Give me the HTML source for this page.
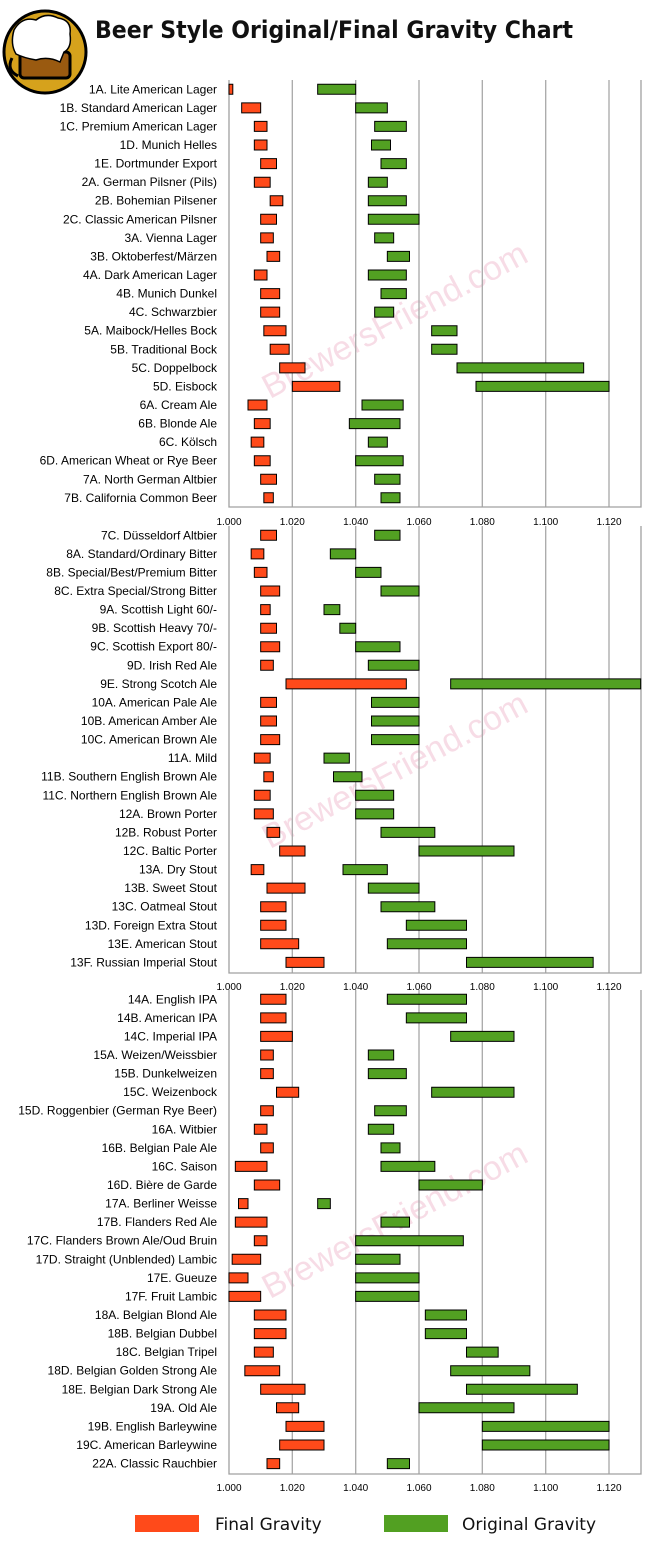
<!DOCTYPE html>
<html><head><meta charset="utf-8"><style>
html,body{margin:0;padding:0;background:#fff;}
svg{display:block;}
.lb{font-family:"Liberation Sans",sans-serif;font-size:12px;fill:#000;text-anchor:end;}
.ax{font-family:"Liberation Sans",sans-serif;font-size:10px;fill:#000;text-anchor:middle;}
.r{fill:#ff4a1a;stroke:#000;stroke-width:1;vector-effect:non-scaling-stroke;}
.g{fill:#52a022;stroke:#000;stroke-width:1;vector-effect:non-scaling-stroke;}
.gl{stroke:#a8a8a8;stroke-width:1.3;}
</style></head><body>
<svg width="654" height="1550" viewBox="0 0 654 1550" xmlns="http://www.w3.org/2000/svg">
<rect width="654" height="1550" fill="#fff"/>
<!-- mug icon -->
<circle cx="45" cy="52" r="41" fill="#d6a21c" stroke="#000" stroke-width="3"/>
<rect x="20" y="52" width="50" height="26" rx="4" fill="#9a5a10" stroke="#000" stroke-width="3"/>
<path d="M12 58 q-6 12 6 18" fill="none" stroke="#000" stroke-width="3"/>
<path d="M14 30 q8 -14 22 -10 q10 -8 22 -2 q14 2 12 16 q2 14 -6 18 l-4 10 q-12 -6 -24 -2 q-12 -2 -20 -6 q-6 -10 -2 -24z" fill="#fff" stroke="#000" stroke-width="1.5"/>
<text x="95" y="38" font-family="'DejaVu Sans','Liberation Sans',sans-serif" font-weight="bold" font-size="24" textLength="478" lengthAdjust="spacingAndGlyphs" fill="#111">Beer Style Original/Final Gravity Chart</text>
<!-- watermark -->
<text x="400" y="330" font-family="'Liberation Sans',sans-serif" font-size="34" fill="#f2c6d6" opacity="0.6" text-anchor="middle" transform="rotate(-28 400 330)">BrewersFriend.com</text>
<text x="400" y="780" font-family="'Liberation Sans',sans-serif" font-size="34" fill="#f2c6d6" opacity="0.6" text-anchor="middle" transform="rotate(-28 400 780)">BrewersFriend.com</text>
<text x="400" y="1230" font-family="'Liberation Sans',sans-serif" font-size="34" fill="#f2c6d6" opacity="0.6" text-anchor="middle" transform="rotate(-28 400 1230)">BrewersFriend.com</text>

<!-- PANEL 1 -->
<g>
<line class="gl" x1="292.3" y1="80" x2="292.3" y2="507"/><line class="gl" x1="355.7" y1="80" x2="355.7" y2="507"/><line class="gl" x1="419" y1="80" x2="419" y2="507"/><line class="gl" x1="482.3" y1="80" x2="482.3" y2="507"/><line class="gl" x1="545.7" y1="80" x2="545.7" y2="507"/><line class="gl" x1="609" y1="80" x2="609" y2="507"/>
<polyline points="229,80 229,507 641,507 641,80" fill="none" stroke="#a0a0a0" stroke-width="1.3"/>
<g class="ax"><text x="229" y="525">1.000</text><text x="292.3" y="525">1.020</text><text x="355.7" y="525">1.040</text><text x="419" y="525">1.060</text><text x="482.3" y="525">1.080</text><text x="545.7" y="525">1.100</text><text x="609" y="525">1.120</text></g>
<g transform="translate(0,80)" class="lb">
<text x="217" y="13.3">1A. Lite American Lager</text>
<text x="217" y="31.9">1B. Standard American Lager</text>
<text x="217" y="50.4">1C. Premium American Lager</text>
<text x="217" y="69">1D. Munich Helles</text>
<text x="217" y="87.6">1E. Dortmunder Export</text>
<text x="217" y="106.2">2A. German Pilsner (Pils)</text>
<text x="217" y="124.7">2B. Bohemian Pilsener</text>
<text x="217" y="143.3">2C. Classic American Pilsner</text>
<text x="217" y="161.9">3A. Vienna Lager</text>
<text x="217" y="180.4">3B. Oktoberfest/Märzen</text>
<text x="217" y="199">4A. Dark American Lager</text>
<text x="217" y="217.6">4B. Munich Dunkel</text>
<text x="217" y="236.1">4C. Schwarzbier</text>
<text x="217" y="254.7">5A. Maibock/Helles Bock</text>
<text x="217" y="273.3">5B. Traditional Bock</text>
<text x="217" y="291.9">5C. Doppelbock</text>
<text x="217" y="310.4">5D. Eisbock</text>
<text x="217" y="329">6A. Cream Ale</text>
<text x="217" y="347.6">6B. Blonde Ale</text>
<text x="217" y="366.1">6C. Kölsch</text>
<text x="217" y="384.7">6D. American Wheat or Rye Beer</text>
<text x="217" y="403.3">7A. North German Altbier</text>
<text x="217" y="421.8">7B. California Common Beer</text>
</g>
<g transform="translate(229,80) scale(3.1667,1)">
<rect class="r" x="0" y="4.3" width="1.2" height="10"/><rect class="g" x="28" y="4.3" width="12" height="10"/>
<rect class="r" x="4" y="22.9" width="6" height="10"/><rect class="g" x="40" y="22.9" width="10" height="10"/>
<rect class="r" x="8" y="41.4" width="4" height="10"/><rect class="g" x="46" y="41.4" width="10" height="10"/>
<rect class="r" x="8" y="60" width="4" height="10"/><rect class="g" x="45" y="60" width="6" height="10"/>
<rect class="r" x="10" y="78.6" width="5" height="10"/><rect class="g" x="48" y="78.6" width="8" height="10"/>
<rect class="r" x="8" y="97.2" width="5" height="10"/><rect class="g" x="44" y="97.2" width="6" height="10"/>
<rect class="r" x="13" y="115.7" width="4" height="10"/><rect class="g" x="44" y="115.7" width="12" height="10"/>
<rect class="r" x="10" y="134.3" width="5" height="10"/><rect class="g" x="44" y="134.3" width="16" height="10"/>
<rect class="r" x="10" y="152.9" width="4" height="10"/><rect class="g" x="46" y="152.9" width="6" height="10"/>
<rect class="r" x="12" y="171.4" width="4" height="10"/><rect class="g" x="50" y="171.4" width="7" height="10"/>
<rect class="r" x="8" y="190" width="4" height="10"/><rect class="g" x="44" y="190" width="12" height="10"/>
<rect class="r" x="10" y="208.6" width="6" height="10"/><rect class="g" x="48" y="208.6" width="8" height="10"/>
<rect class="r" x="10" y="227.1" width="6" height="10"/><rect class="g" x="46" y="227.1" width="6" height="10"/>
<rect class="r" x="11" y="245.7" width="7" height="10"/><rect class="g" x="64" y="245.7" width="8" height="10"/>
<rect class="r" x="13" y="264.3" width="6" height="10"/><rect class="g" x="64" y="264.3" width="8" height="10"/>
<rect class="r" x="16" y="282.9" width="8" height="10"/><rect class="g" x="72" y="282.9" width="40" height="10"/>
<rect class="r" x="20" y="301.4" width="15" height="10"/><rect class="g" x="78" y="301.4" width="42" height="10"/>
<rect class="r" x="6" y="320" width="6" height="10"/><rect class="g" x="42" y="320" width="13" height="10"/>
<rect class="r" x="8" y="338.6" width="5" height="10"/><rect class="g" x="38" y="338.6" width="16" height="10"/>
<rect class="r" x="7" y="357.1" width="4" height="10"/><rect class="g" x="44" y="357.1" width="6" height="10"/>
<rect class="r" x="8" y="375.7" width="5" height="10"/><rect class="g" x="40" y="375.7" width="15" height="10"/>
<rect class="r" x="10" y="394.3" width="5" height="10"/><rect class="g" x="46" y="394.3" width="8" height="10"/>
<rect class="r" x="11" y="412.8" width="3" height="10"/><rect class="g" x="48" y="412.8" width="6" height="10"/>
</g>
</g>

<!-- PANEL 2 -->
<g>
<line class="gl" x1="292.3" y1="526" x2="292.3" y2="973"/><line class="gl" x1="355.7" y1="526" x2="355.7" y2="973"/><line class="gl" x1="419" y1="526" x2="419" y2="973"/><line class="gl" x1="482.3" y1="526" x2="482.3" y2="973"/><line class="gl" x1="545.7" y1="526" x2="545.7" y2="973"/><line class="gl" x1="609" y1="526" x2="609" y2="973"/>
<polyline points="229,526 229,973 641,973 641,526" fill="none" stroke="#a0a0a0" stroke-width="1.3"/>
<g class="ax"><text x="229" y="990">1.000</text><text x="292.3" y="990">1.020</text><text x="355.7" y="990">1.040</text><text x="419" y="990">1.060</text><text x="482.3" y="990">1.080</text><text x="545.7" y="990">1.100</text><text x="609" y="990">1.120</text></g>
<g transform="translate(0,526)" class="lb">
<text x="217" y="13.3">7C. Düsseldorf Altbier</text>
<text x="217" y="31.9">8A. Standard/Ordinary Bitter</text>
<text x="217" y="50.4">8B. Special/Best/Premium Bitter</text>
<text x="217" y="69">8C. Extra Special/Strong Bitter</text>
<text x="217" y="87.6">9A. Scottish Light 60/-</text>
<text x="217" y="106.2">9B. Scottish Heavy 70/-</text>
<text x="217" y="124.7">9C. Scottish Export 80/-</text>
<text x="217" y="143.3">9D. Irish Red Ale</text>
<text x="217" y="161.9">9E. Strong Scotch Ale</text>
<text x="217" y="180.4">10A. American Pale Ale</text>
<text x="217" y="199">10B. American Amber Ale</text>
<text x="217" y="217.6">10C. American Brown Ale</text>
<text x="217" y="236.1">11A. Mild</text>
<text x="217" y="254.7">11B. Southern English Brown Ale</text>
<text x="217" y="273.3">11C. Northern English Brown Ale</text>
<text x="217" y="291.9">12A. Brown Porter</text>
<text x="217" y="310.4">12B. Robust Porter</text>
<text x="217" y="329">12C. Baltic Porter</text>
<text x="217" y="347.6">13A. Dry Stout</text>
<text x="217" y="366.1">13B. Sweet Stout</text>
<text x="217" y="384.7">13C. Oatmeal Stout</text>
<text x="217" y="403.3">13D. Foreign Extra Stout</text>
<text x="217" y="421.8">13E. American Stout</text>
<text x="217" y="440.4">13F. Russian Imperial Stout</text>
</g>
<g transform="translate(229,526) scale(3.1667,1)">
<rect class="r" x="10" y="4.3" width="5" height="10"/><rect class="g" x="46" y="4.3" width="8" height="10"/>
<rect class="r" x="7" y="22.9" width="4" height="10"/><rect class="g" x="32" y="22.9" width="8" height="10"/>
<rect class="r" x="8" y="41.4" width="4" height="10"/><rect class="g" x="40" y="41.4" width="8" height="10"/>
<rect class="r" x="10" y="60" width="6" height="10"/><rect class="g" x="48" y="60" width="12" height="10"/>
<rect class="r" x="10" y="78.6" width="3" height="10"/><rect class="g" x="30" y="78.6" width="5" height="10"/>
<rect class="r" x="10" y="97.2" width="5" height="10"/><rect class="g" x="35" y="97.2" width="5" height="10"/>
<rect class="r" x="10" y="115.7" width="6" height="10"/><rect class="g" x="40" y="115.7" width="14" height="10"/>
<rect class="r" x="10" y="134.3" width="4" height="10"/><rect class="g" x="44" y="134.3" width="16" height="10"/>
<rect class="r" x="18" y="152.9" width="38" height="10"/><rect class="g" x="70" y="152.9" width="60" height="10"/>
<rect class="r" x="10" y="171.4" width="5" height="10"/><rect class="g" x="45" y="171.4" width="15" height="10"/>
<rect class="r" x="10" y="190" width="5" height="10"/><rect class="g" x="45" y="190" width="15" height="10"/>
<rect class="r" x="10" y="208.6" width="6" height="10"/><rect class="g" x="45" y="208.6" width="15" height="10"/>
<rect class="r" x="8" y="227.1" width="5" height="10"/><rect class="g" x="30" y="227.1" width="8" height="10"/>
<rect class="r" x="11" y="245.7" width="3" height="10"/><rect class="g" x="33" y="245.7" width="9" height="10"/>
<rect class="r" x="8" y="264.3" width="5" height="10"/><rect class="g" x="40" y="264.3" width="12" height="10"/>
<rect class="r" x="8" y="282.9" width="6" height="10"/><rect class="g" x="40" y="282.9" width="12" height="10"/>
<rect class="r" x="12" y="301.4" width="4" height="10"/><rect class="g" x="48" y="301.4" width="17" height="10"/>
<rect class="r" x="16" y="320" width="8" height="10"/><rect class="g" x="60" y="320" width="30" height="10"/>
<rect class="r" x="7" y="338.6" width="4" height="10"/><rect class="g" x="36" y="338.6" width="14" height="10"/>
<rect class="r" x="12" y="357.1" width="12" height="10"/><rect class="g" x="44" y="357.1" width="16" height="10"/>
<rect class="r" x="10" y="375.7" width="8" height="10"/><rect class="g" x="48" y="375.7" width="17" height="10"/>
<rect class="r" x="10" y="394.3" width="8" height="10"/><rect class="g" x="56" y="394.3" width="19" height="10"/>
<rect class="r" x="10" y="412.8" width="12" height="10"/><rect class="g" x="50" y="412.8" width="25" height="10"/>
<rect class="r" x="18" y="431.4" width="12" height="10"/><rect class="g" x="75" y="431.4" width="40" height="10"/>
</g>
</g>

<!-- PANEL 3 -->
<g>
<line class="gl" x1="292.3" y1="990" x2="292.3" y2="1474"/><line class="gl" x1="355.7" y1="990" x2="355.7" y2="1474"/><line class="gl" x1="419" y1="990" x2="419" y2="1474"/><line class="gl" x1="482.3" y1="990" x2="482.3" y2="1474"/><line class="gl" x1="545.7" y1="990" x2="545.7" y2="1474"/><line class="gl" x1="609" y1="990" x2="609" y2="1474"/>
<polyline points="229,990 229,1474 641,1474 641,990" fill="none" stroke="#a0a0a0" stroke-width="1.3"/>
<g class="ax"><text x="229" y="1491">1.000</text><text x="292.3" y="1491">1.020</text><text x="355.7" y="1491">1.040</text><text x="419" y="1491">1.060</text><text x="482.3" y="1491">1.080</text><text x="545.7" y="1491">1.100</text><text x="609" y="1491">1.120</text></g>
<g transform="translate(0,990)" class="lb">
<text x="217" y="13.3">14A. English IPA</text>
<text x="217" y="31.9">14B. American IPA</text>
<text x="217" y="50.4">14C. Imperial IPA</text>
<text x="217" y="69">15A. Weizen/Weissbier</text>
<text x="217" y="87.6">15B. Dunkelweizen</text>
<text x="217" y="106.2">15C. Weizenbock</text>
<text x="217" y="124.7">15D. Roggenbier (German Rye Beer)</text>
<text x="217" y="143.3">16A. Witbier</text>
<text x="217" y="161.9">16B. Belgian Pale Ale</text>
<text x="217" y="180.4">16C. Saison</text>
<text x="217" y="199">16D. Bière de Garde</text>
<text x="217" y="217.6">17A. Berliner Weisse</text>
<text x="217" y="236.1">17B. Flanders Red Ale</text>
<text x="217" y="254.7">17C. Flanders Brown Ale/Oud Bruin</text>
<text x="217" y="273.3">17D. Straight (Unblended) Lambic</text>
<text x="217" y="291.9">17E. Gueuze</text>
<text x="217" y="310.4">17F. Fruit Lambic</text>
<text x="217" y="329">18A. Belgian Blond Ale</text>
<text x="217" y="347.6">18B. Belgian Dubbel</text>
<text x="217" y="366.1">18C. Belgian Tripel</text>
<text x="217" y="384.7">18D. Belgian Golden Strong Ale</text>
<text x="217" y="403.3">18E. Belgian Dark Strong Ale</text>
<text x="217" y="421.8">19A. Old Ale</text>
<text x="217" y="440.4">19B. English Barleywine</text>
<text x="217" y="459">19C. American Barleywine</text>
<text x="217" y="477.6">22A. Classic Rauchbier</text>
</g>
<g transform="translate(229,990) scale(3.1667,1)">
<rect class="r" x="10" y="4.3" width="8" height="10"/><rect class="g" x="50" y="4.3" width="25" height="10"/>
<rect class="r" x="10" y="22.9" width="8" height="10"/><rect class="g" x="56" y="22.9" width="19" height="10"/>
<rect class="r" x="10" y="41.4" width="10" height="10"/><rect class="g" x="70" y="41.4" width="20" height="10"/>
<rect class="r" x="10" y="60" width="4" height="10"/><rect class="g" x="44" y="60" width="8" height="10"/>
<rect class="r" x="10" y="78.6" width="4" height="10"/><rect class="g" x="44" y="78.6" width="12" height="10"/>
<rect class="r" x="15" y="97.2" width="7" height="10"/><rect class="g" x="64" y="97.2" width="26" height="10"/>
<rect class="r" x="10" y="115.7" width="4" height="10"/><rect class="g" x="46" y="115.7" width="10" height="10"/>
<rect class="r" x="8" y="134.3" width="4" height="10"/><rect class="g" x="44" y="134.3" width="8" height="10"/>
<rect class="r" x="10" y="152.9" width="4" height="10"/><rect class="g" x="48" y="152.9" width="6" height="10"/>
<rect class="r" x="2" y="171.4" width="10" height="10"/><rect class="g" x="48" y="171.4" width="17" height="10"/>
<rect class="r" x="8" y="190" width="8" height="10"/><rect class="g" x="60" y="190" width="20" height="10"/>
<rect class="r" x="3" y="208.6" width="3" height="10"/><rect class="g" x="28" y="208.6" width="4" height="10"/>
<rect class="r" x="2" y="227.1" width="10" height="10"/><rect class="g" x="48" y="227.1" width="9" height="10"/>
<rect class="r" x="8" y="245.7" width="4" height="10"/><rect class="g" x="40" y="245.7" width="34" height="10"/>
<rect class="r" x="1" y="264.3" width="9" height="10"/><rect class="g" x="40" y="264.3" width="14" height="10"/>
<rect class="r" x="0" y="282.9" width="6" height="10"/><rect class="g" x="40" y="282.9" width="20" height="10"/>
<rect class="r" x="0" y="301.4" width="10" height="10"/><rect class="g" x="40" y="301.4" width="20" height="10"/>
<rect class="r" x="8" y="320" width="10" height="10"/><rect class="g" x="62" y="320" width="13" height="10"/>
<rect class="r" x="8" y="338.6" width="10" height="10"/><rect class="g" x="62" y="338.6" width="13" height="10"/>
<rect class="r" x="8" y="357.1" width="6" height="10"/><rect class="g" x="75" y="357.1" width="10" height="10"/>
<rect class="r" x="5" y="375.7" width="11" height="10"/><rect class="g" x="70" y="375.7" width="25" height="10"/>
<rect class="r" x="10" y="394.3" width="14" height="10"/><rect class="g" x="75" y="394.3" width="35" height="10"/>
<rect class="r" x="15" y="412.8" width="7" height="10"/><rect class="g" x="60" y="412.8" width="30" height="10"/>
<rect class="r" x="18" y="431.4" width="12" height="10"/><rect class="g" x="80" y="431.4" width="40" height="10"/>
<rect class="r" x="16" y="450" width="14" height="10"/><rect class="g" x="80" y="450" width="40" height="10"/>
<rect class="r" x="12" y="468.6" width="4" height="10"/><rect class="g" x="50" y="468.6" width="7" height="10"/>
</g>
</g>

<!-- legend -->
<rect x="135" y="1515" width="64" height="17" fill="#ff4a1a"/>
<text x="215" y="1530" font-family="'DejaVu Sans','Liberation Sans',sans-serif" font-size="17" fill="#111">Final Gravity</text>
<rect x="384" y="1515" width="64" height="17" fill="#52a022"/>
<text x="462" y="1530" font-family="'DejaVu Sans','Liberation Sans',sans-serif" font-size="17" fill="#111">Original Gravity</text>
</svg>
</body></html>
